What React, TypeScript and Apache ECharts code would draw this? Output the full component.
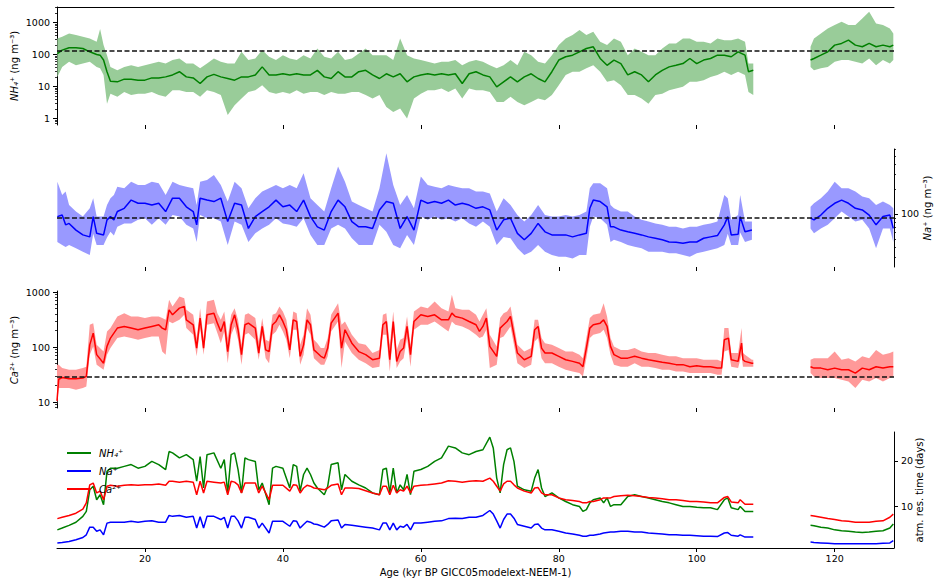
import React, { useEffect, useRef } from 'react';
import * as echarts from 'echarts';

// ---------- tick / axis values ----------
const X_TICKS = [20, 40, 60, 80, 100, 120];
const NH4_MAJOR = [1, 10, 100, 1000];
const NH4_MINOR = [0.7, 0.8, 0.9, 2, 3, 4, 5, 6, 7, 8, 9, 20, 30, 40, 50, 60, 70, 80, 90, 200, 300, 400, 500, 600, 700, 800, 900, 2000, 3000];
const NA_MAJOR = [100];
const NA_MINOR = [30, 40, 50, 60, 70, 80, 90, 200, 300, 400, 500, 600];
const CA_MAJOR = [10, 100, 1000];
const CA_MINOR = [8, 9, 20, 30, 40, 50, 60, 70, 80, 90, 200, 300, 400, 500, 600, 700, 800, 900];
const RES_TICKS = [10, 20];
const NH4_REF = 130;
const NA_REF = 90;
const CA_REF = 28.5;

// ---------- panel 1: NH4+ (ng m-3) ----------
const nh4Age = [7.3, 8, 9, 10, 11, 12, 13, 13.5, 14, 14.5, 15,
  16, 17, 18, 19, 20, 21, 22, 23, 24, 25,
  26, 27, 28, 29, 30, 31, 32, 33, 34, 35,
  36, 37, 38, 39, 40, 41, 42, 43, 44, 45,
  46, 47, 48, 49, 50, 51, 52, 53, 54, 55,
  56, 57, 58, 59, 60, 61, 62, 63, 64, 65,
  66, 67, 68, 69, 70, 71, 72, 73, 74, 75,
  76, 77, 78, 79, 80, 81, 82, 83, 84, 85,
  86, 87, 88, 89, 90, 91, 92, 93, 94, 95,
  96, 97, 98, 99, 100, 101, 102, 103, 104, 105,
  106, 107, 107.5, 108.2, 112,
  116.5, 117, 118, 119, 120, 121, 122, 123, 124, 125, 126, 127, 128, 128.5];
const nh4Mean = [107, 137, 162, 162, 154, 121, 100, 95, 67, 29, 14.7,
  14, 17, 17, 15.8, 15.8, 18.6, 18.6, 20, 23, 29,
  20, 18.6, 12.4, 20, 24, 20, 17.8, 15.8, 20, 20,
  23, 41, 23, 23, 25, 23, 25, 23, 23, 32,
  20, 17.8, 29, 20, 20, 29, 32, 23, 17.8, 25,
  20, 25, 14, 20, 23, 25, 23, 25, 23, 25,
  12.4, 25, 29, 23, 20, 9.8, 14, 20, 14, 20,
  25, 17.8, 14, 29, 67, 85, 95, 121, 154, 174,
  75, 46, 67, 52, 23, 29, 23, 14, 23, 32,
  41, 46, 52, 75, 52, 67, 75, 95, 95, 85,
  121, 95, 29, 32, null,
  67, 75, 95, 121, 196, 221, 280, 196, 174, 221, 174, 196, 174, 196];
const nh4Hi = [316, 356, 453, 402, 356, 316, 249, 620, 196, 95, 41,
  32, 41, 46, 41, 46, 52, 59, 52, 67, 75,
  52, 52, 37, 52, 75, 59, 52, 52, 121, 67,
  75, 137, 85, 67, 95, 75, 67, 95, 75, 154,
  85, 75, 121, 67, 75, 107, 154, 95, 95, 95,
  67, 316, 95, 75, 67, 59, 52, 59, 59, 67,
  46, 59, 67, 59, 46, 37, 46, 67, 46, 121,
  95, 59, 52, 95, 196, 316, 402, 576, 402, 511,
  249, 196, 316, 249, 95, 154, 121, 95, 95, 154,
  221, 221, 316, 316, 249, 249, 221, 316, 280, 280,
  316, 249, 52, 52, null,
  174, 316, 453, 649, 826, 1050, 826, 826, 1334, 2154, 931, 826, 649, 453];
const nh4Lo = [20, 41, 59, 46, 52, 59, 41, 37, 23, 2.9, 6.0,
  4.8, 6.8, 5.4, 6.0, 6.0, 6.8, 5.4, 4.8, 7.7, 7.7,
  6.8, 6.8, 4.8, 7.7, 6.8, 5.4, 1.3, 2.6, 4.2, 6.8,
  7.7, 11, 6.8, 6.0, 6.8, 6.0, 7.7, 6.0, 6.8, 6.8,
  5.4, 6.8, 6.0, 6.0, 6.8, 6.8, 5.4, 4.2, 5.4, 2.3,
  1.6, 2.05, 1.0, 4.2, 6.0, 7.7, 7.7, 8.7, 6.8, 8.7,
  4.2, 8.7, 7.7, 7.7, 6.8, 3.3, 3.3, 4.8, 3.3, 2.6,
  3.3, 4.2, 3.7, 5.4, 11, 23, 29, 29, 37, 46,
  29, 14, 15.8, 11, 5.4, 5.4, 4.2, 2.9, 5.4, 6.0,
  7.7, 8.7, 9.8, 14, 14, 15.8, 20, 23, 29, 23,
  29, 23, 6.8, 5.4, null,
  41, 32, 37, 41, 59, 67, 67, 59, 52, 75, 46, 67, 52, 67];

// ---------- panel 2: Na+ (ng m-3) ----------
const naAge = [7.3, 8, 8.5, 9, 10, 11, 12, 12.5, 13, 14,
  14.5, 15, 15.5, 16, 17, 18, 19, 20, 21, 22,
  23, 24, 25, 26, 27, 27.5, 28, 29, 30, 31,
  32, 33, 34, 35, 36, 37, 38, 39, 40, 41,
  42, 43, 44, 45, 46, 47, 48, 49, 50, 51,
  52, 53, 54, 55, 56, 57, 58, 59, 60, 61,
  62, 63, 64, 65, 66, 67, 68, 69, 70, 71,
  72, 73, 74, 75, 76, 77, 78, 79, 80, 81,
  82, 83, 84, 84.5, 85, 86, 87, 87.5, 88, 89,
  90, 91, 92, 93, 94, 95, 96, 97, 98, 99,
  100, 101, 102, 103, 104, 104.5, 105, 106, 106.3, 107,
  108, 112, 116.5, 117, 118, 119, 120, 121, 122, 123, 124, 125, 126, 127, 128, 128.5];
const naMean = [93, 97, 74, 77, 64, 56, 53, 93, 58.5, 56,
  85, 93, 85, 107, 117, 147, 134.5, 134.5, 128, 134.5,
  107, 155, 155, 122, 107, 74, 155, 147, 141, 155,
  81, 134.5, 128, 67, 93, 107, 122, 147, 122, 128,
  107, 147, 93, 70, 64, 107, 147, 122, 81, 70,
  70, 67, 112, 141, 134.5, 67, 93, 64, 147, 134.5,
  141, 134.5, 147, 128, 134.5, 128, 117, 122, 112, 64,
  85, 89, 58.5, 49, 58.5, 77, 61, 56, 56, 56,
  53, 56, 58.5, 117, 147, 141, 122, 70, 70, 64,
  61, 58.5, 56, 53, 51, 49, 46, 45.6, 44.4, 46,
  46, 51, 53, 55, 74, 93, 56, 57, 93, 61,
  64, null, 89, 85, 97, 117, 134.5, 147, 134.5, 117, 112, 97, 74, 93, 97, 67];
const naHi = [245, 169, 186, 128, 107, 93, 117, 155, 93, 93,
  128, 155, 169, 213, 204, 245, 223, 223, 245, 234,
  169, 245, 223, 213, 204, 128, 245, 257, 295, 223,
  141, 245, 204, 117, 155, 186, 204, 223, 204, 223,
  204, 309, 155, 128, 107, 204, 372, 245, 141, 128,
  117, 107, 204, 538, 223, 128, 169, 117, 282, 223,
  213, 204, 223, 213, 204, 204, 186, 186, 177, 107,
  155, 128, 97, 81, 97, 128, 97, 93, 93, 97,
  93, 97, 107, 204, 234, 234, 204, 128, 117, 107,
  107, 93, 85, 81, 77, 74, 70, 70, 67, 70,
  70, 74, 77, 81, 169, 155, 85, 97, 169, 81,
  81, null, 122, 134.5, 155, 186, 245, 204, 204, 186, 162, 155, 128, 141, 128, 117];
const naLo = [46, 42.4, 40, 42.4, 38.6, 35.2, 32, 58, 42.4, 42.4,
  52, 61, 55, 70, 77, 77, 85, 89, 74, 89,
  74, 97, 93, 74, 67, 46, 97, 89, 89, 81,
  42.4, 81, 74, 46, 58.5, 67, 74, 89, 77, 74,
  70, 89, 56, 42.4, 42.4, 67, 74, 67, 51, 42.4,
  42.4, 42.4, 74, 61, 42.4, 38.6, 56, 42.4, 93, 85,
  93, 85, 89, 81, 89, 77, 70, 81, 70, 42.4,
  53, 51, 38.6, 32, 35.2, 42.4, 35.2, 32, 30.6, 30.6,
  29.2, 32, 32, 70, 93, 89, 74, 46, 49, 46,
  42.4, 40.4, 38.6, 35.2, 35.2, 35.2, 33.6, 33.6, 32, 30.6,
  33.6, 35.2, 36.8, 38.6, 42.4, 58, 42.4, 42.4, 60, 46,
  49, null, 67, 58.5, 67, 74, 89, 107, 93, 81, 85, 67, 38.6, 67, 67, 46];

// ---------- panel 3: Ca2+ (ng m-3) ----------
const caAge = [7.25, 7.5, 8, 9, 10, 11, 11.5, 12, 12.5, 13,
  14, 14.5, 15, 16, 17, 18, 19, 20, 21, 22,
  22.5, 23, 23.5, 24, 25, 25.7, 26, 27, 27.5, 28,
  28.5, 29, 30, 30.5, 31, 31.5, 32, 32.5, 33, 33.5,
  34, 34.5, 35, 36, 36.5, 37, 37.5, 38, 38.5, 39,
  39.5, 40, 40.5, 41, 41.5, 42, 42.5, 43, 43.5, 44,
  44.5, 45, 45.5, 46, 46.5, 47, 48, 48.5, 49, 50,
  51, 52, 53, 54, 54.5, 55, 55.5, 56, 56.5, 57,
  57.5, 58, 58.5, 59, 60, 61, 62, 63, 64, 64.5,
  65, 66, 67, 68, 68.5, 69, 69.5, 70, 71, 71.5,
  72, 72.5, 73, 73.5, 74, 75, 76, 76.5, 77, 77.5,
  78, 79, 80, 81, 82, 83, 83.5, 84, 84.5, 85,
  86, 86.5, 87, 87.5, 88, 89, 90, 91, 92, 93,
  94, 95, 96, 97, 98, 99, 100, 101, 102, 103,
  103.6, 104, 104.6, 105, 106, 106.5, 106.7, 107, 108, 108.2,
  112, 116.5, 117, 118, 119, 120, 121, 122, 123, 124, 125, 126, 127, 128, 128.5];
const caMean = [10.5, 26, 28, 26.6, 26.6, 27.3, 29.3, 110, 180, 73,
  51, 103, 146, 222, 238, 222, 207, 222, 238, 255,
  222, 207, 477, 387, 512, 549, 314, 255, 96, 337,
  96, 387, 415, 273, 193, 293, 83, 255, 387, 207,
  73, 255, 273, 222, 78, 238, 89, 83, 255, 293,
  387, 293, 207, 89, 314, 293, 68, 110, 314, 255,
  89, 78, 68, 63, 96, 273, 415, 96, 207, 118,
  83, 73, 59, 63, 255, 293, 59, 293, 55, 83,
  96, 238, 73, 293, 387, 361, 387, 314, 314, 415,
  361, 337, 293, 255, 193, 238, 337, 103, 68, 222,
  255, 293, 361, 168, 78, 59, 68, 207, 238, 96,
  78, 78, 68, 59, 55, 51, 44, 96, 222, 255,
  273, 314, 238, 103, 73, 63, 63, 68, 63, 59,
  56, 53, 51, 48, 48, 44, 46, 44, 44, 41.5,
  41.5, 136, 146, 59, 55, 118, 59, 55, 51, 51,
  null, 44, 41.5, 41.5, 38.7, 41.5, 38.7, 38.7, 33.7, 41.5, 38.7, 44, 41.5, 44, 44];
const caHi = [48, 48, 41.5, 38.7, 38.7, 41.5, 44, 255, 273, 110,
  83, 193, 222, 361, 415, 361, 361, 337, 361, 361,
  337, 314, 727, 549, 834, 778, 477, 387, 146, 512,
  146, 676, 727, 415, 314, 445, 146, 387, 512, 314,
  110, 387, 415, 337, 127, 337, 136, 127, 387, 415,
  549, 445, 314, 127, 445, 415, 110, 168, 512, 387,
  136, 118, 96, 96, 146, 387, 631, 255, 293, 168,
  118, 110, 78, 89, 387, 415, 110, 445, 89, 136,
  146, 361, 110, 445, 549, 512, 676, 512, 445, 895,
  512, 477, 477, 387, 293, 387, 512, 168, 103, 337,
  415, 445, 549, 255, 110, 83, 96, 314, 314, 146,
  118, 110, 96, 83, 83, 73, 63, 146, 337, 387,
  415, 631, 361, 146, 103, 89, 89, 96, 83, 78,
  78, 73, 68, 68, 63, 63, 63, 59, 59, 59,
  55, 222, 222, 78, 78, 222, 78, 73, 59, 59,
  null, 59, 63, 63, 63, 83, 59, 63, 55, 68, 63, 89, 73, 78, 83];
const caLo = [9, 18, 18, 18, 16.8, 18, 19.3, 73, 103, 48,
  38.7, 73, 96, 146, 156, 146, 136, 146, 156, 156,
  83, 73, 293, 273, 314, 387, 222, 168, 68, 222,
  73, 255, 273, 180, 118, 193, 51, 168, 238, 136,
  48, 168, 180, 136, 59, 168, 63, 51, 168, 193,
  255, 193, 136, 63, 207, 207, 48, 73, 222, 168,
  63, 55, 48, 48, 68, 193, 293, 41.5, 127, 78,
  59, 51, 41.5, 44, 168, 168, 36, 193, 41.5, 55,
  63, 146, 44, 207, 255, 255, 293, 238, 193, 293,
  255, 238, 207, 168, 146, 156, 207, 41.5, 48, 146,
  156, 193, 238, 110, 51, 41.5, 48, 127, 146, 63,
  51, 51, 44, 38.7, 36, 33.7, 29.3, 63, 146, 168,
  180, 207, 146, 73, 48, 44, 44, 51, 44, 44,
  41.5, 38.7, 38.7, 36, 36, 33.7, 33.7, 33.7, 33.7, 31.4,
  31.4, 83, 89, 44, 41.5, 73, 44, 44, 44, 44,
  null, 33.7, 29.3, 27.3, 27.3, 27.3, 25.5, 23.8, 18, 25.5, 23.8, 27.3, 23.8, 27.3, 29.3];

// ---------- panel 4: atm. residence time (days) ----------
const resAge = [7.3, 8, 9, 10, 11, 11.5, 12, 12.5, 13, 13.5,
  14, 14.5, 15, 16, 17, 18, 19, 20, 21, 22,
  23, 23.5, 24, 25, 26, 27, 27.5, 28, 28.5, 29,
  30, 31, 31.5, 32, 32.5, 33, 33.5, 34, 34.5, 35,
  36, 36.5, 37, 38, 38.5, 39, 40, 41, 41.5, 42,
  42.5, 43, 43.5, 44, 44.5, 45, 46, 46.5, 47, 48,
  48.5, 49, 50, 51, 52, 53, 54, 54.5, 55, 55.5,
  56, 56.5, 57, 57.5, 58, 58.5, 59, 60, 61, 62,
  63, 64, 65, 66, 67, 68, 69, 70, 70.5, 71,
  71.5, 72, 72.5, 73, 73.5, 74, 75, 76, 76.5, 77,
  77.5, 78, 79, 80, 81, 82, 83, 83.5, 84, 84.5,
  85, 86, 86.5, 87, 87.5, 88, 89, 90, 91, 92,
  93, 94, 95, 96, 97, 98, 99, 100, 101, 102,
  103, 104, 104.5, 105, 106, 106.3, 107, 108, 108.2, 112,
  116.5, 117, 118, 119, 120, 121, 122, 123, 124, 125, 126, 127, 128, 128.5];
const resNH4 = [4.7, 5.1, 5.7, 6.4, 7.7, 8.8, 13.6, 14.4, 11.4, 12.5,
  10.3, 17.7, 18.4, 18.4, 18.8, 19.2, 18.4, 18.8, 19.9, 19.2,
  18.1, 22.1, 21.8, 20.7, 21.4, 20.3, 15.5, 21.0, 14.0, 21.4,
  21.8, 18.4, 20.3, 12.9, 21.4, 21.8, 18.1, 12.9, 20.7, 20.3,
  19.9, 13.6, 15.1, 10.3, 18.4, 18.8, 18.4, 14.0, 19.2, 18.8,
  13.3, 17.0, 18.4, 17.0, 15.1, 14.0, 12.5, 14.4, 19.2, 19.6,
  13.6, 17.0, 15.5, 14.7, 14.0, 12.9, 12.5, 18.1, 18.4, 12.9,
  18.4, 12.9, 14.7, 13.6, 17.0, 12.5, 17.7, 18.1, 18.8, 19.9,
  20.7, 23.3, 22.9, 21.8, 21.4, 22.1, 22.5, 25.3, 22.9, 16.2,
  12.9, 19.2, 22.5, 22.9, 19.9, 14.4, 13.6, 13.3, 16.2, 18.1,
  14.0, 12.1, 12.9, 11.8, 11.0, 10.3, 9.9, 8.8, 9.2, 10.7,
  11.4, 11.8, 10.7, 11.8, 9.9, 10.3, 10.3, 12.1, 12.5, 12.1,
  11.8, 11.4, 11.0, 10.7, 10.3, 9.9, 9.9, 9.7, 9.6, 9.6,
  9.2, 11.4, 11.8, 9.6, 9.2, 9.9, 8.8, 8.8, 8.8, null,
  5.7, 5.6, 5.3, 5.1, 4.7, 4.5, 4.4, 4.2, 4.1, 4.2, 4.4, 4.5, 5.1, 6.0];
const resNa = [1.8, 1.9, 2.1, 2.5, 3.0, 3.6, 5.3, 5.3, 4.4, 4.7,
  3.6, 6.2, 6.4, 6.4, 6.4, 6.6, 6.4, 6.6, 6.7, 6.4,
  6.4, 7.9, 7.7, 7.9, 7.5, 7.7, 5.1, 7.6, 5.1, 7.7,
  7.7, 7.0, 7.5, 5.1, 7.7, 7.7, 6.7, 5.1, 7.5, 7.5,
  7.0, 5.1, 6.2, 4.0, 6.6, 6.6, 6.6, 5.5, 6.7, 6.6,
  5.1, 5.9, 6.6, 6.4, 6.0, 5.9, 5.3, 5.9, 6.7, 6.9,
  5.1, 5.9, 5.7, 5.5, 5.3, 5.1, 4.7, 6.2, 6.2, 4.7,
  6.2, 4.7, 5.5, 5.3, 5.9, 4.7, 6.2, 6.2, 6.4, 6.6,
  6.7, 7.2, 7.3, 7.2, 7.5, 7.5, 7.9, 9.0, 8.2, 6.7,
  5.1, 7.0, 8.2, 8.2, 7.3, 5.9, 5.5, 5.1, 5.9, 6.0,
  5.1, 4.7, 4.7, 4.4, 4.0, 3.8, 3.5, 3.3, 3.3, 3.5,
  3.5, 3.8, 4.0, 4.1, 4.2, 4.2, 4.4, 4.4, 4.2, 4.2,
  4.0, 3.9, 3.8, 3.6, 3.6, 3.5, 3.5, 3.4, 3.3, 3.3,
  3.2, 4.0, 4.1, 3.5, 3.3, 3.6, 3.1, 3.1, 3.1, null,
  2.0, 1.9, 1.8, 1.7, 1.6, 1.6, 1.6, 1.6, 1.6, 1.6, 1.6, 1.7, 1.8, 2.3];
const resCa = [7.2, 7.5, 7.9, 8.4, 9.3, 10.7, 14.7, 15.1, 12.9, 13.3,
  11.4, 14.4, 14.6, 14.4, 14.6, 14.7, 14.6, 14.7, 14.7, 14.9,
  14.6, 15.5, 15.5, 15.3, 15.5, 15.3, 12.5, 15.5, 12.9, 15.5,
  15.3, 15.1, 15.3, 12.5, 15.5, 15.3, 14.7, 12.9, 15.1, 15.1,
  15.1, 12.9, 14.4, 11.4, 14.6, 14.6, 14.6, 13.3, 14.7, 14.6,
  12.9, 14.0, 14.6, 14.4, 14.0, 13.9, 13.6, 14.0, 14.6, 14.9,
  12.5, 14.0, 14.0, 13.9, 13.4, 12.9, 12.5, 14.4, 14.4, 12.5,
  14.6, 12.9, 13.6, 13.3, 14.4, 12.9, 14.4, 14.6, 14.7, 14.9,
  15.1, 15.6, 15.5, 15.3, 15.5, 15.6, 15.5, 16.2, 15.5, 14.4,
  13.3, 14.9, 15.5, 15.5, 14.7, 14.0, 13.3, 12.9, 14.0, 14.1,
  12.9, 12.5, 12.5, 11.8, 11.4, 11.2, 11.0, 10.7, 10.7, 11.0,
  11.0, 11.4, 11.8, 11.8, 11.8, 12.1, 12.3, 12.4, 12.3, 12.1,
  11.9, 11.8, 11.6, 11.4, 11.4, 11.2, 11.0, 11.0, 10.9, 10.7,
  10.7, 11.9, 12.1, 10.9, 10.7, 11.4, 10.4, 10.4, 10.4, null,
  7.9, 7.8, 7.5, 7.2, 7.0, 6.7, 6.6, 6.4, 6.4, 6.4, 6.6, 6.7, 7.5, 8.2];

// ---------- helpers ----------
const FONT = 'DejaVu Sans';
const FS = 9.5;
const NFS = 10;
const X_MIN = 7.25;
const X_MAX = 128.6;
const GREEN = '#008000';
const BLUE = '#0000ff';
const RED = '#ff0000';

const pairs = (ages: number[], vals: (number | null)[]) =>
  ages.map((a, i) => [a, vals[i] == null ? '-' : vals[i]]);

function bandSeries(ages: number[], lo: (number | null)[], hi: (number | null)[], color: string, xi: number, yi: number) {
  const segs: number[][] = [];
  let cur: number[] = [];
  ages.forEach((_a, i) => {
    if (lo[i] == null || hi[i] == null) {
      if (cur.length) segs.push(cur);
      cur = [];
    } else cur.push(i);
  });
  if (cur.length) segs.push(cur);
  return {
    type: 'custom',
    xAxisIndex: xi,
    yAxisIndex: yi,
    silent: true,
    clip: true,
    z: 1,
    data: segs.map((s, k) => [ages[s[0]], lo[s[0]], k]),
    renderItem: (params: any, api: any) => {
      const s = segs[params.dataIndex];
      const pts: number[][] = [];
      s.forEach((i) => pts.push(api.coord([ages[i], hi[i]])));
      for (let j = s.length - 1; j >= 0; j--) pts.push(api.coord([ages[s[j]], lo[s[j]]]));
      return { type: 'polygon', shape: { points: pts }, style: { fill: color } };
    },
  };
}

function lineSeries(name: string | undefined, ages: number[], vals: (number | null)[], color: string, xi: number, yi: number, ref?: number) {
  const s: any = {
    type: 'line',
    name,
    xAxisIndex: xi,
    yAxisIndex: yi,
    data: pairs(ages, vals),
    symbol: 'none',
    showSymbol: false,
    connectNulls: false,
    z: 2,
    lineStyle: { color, width: 1.5 },
    itemStyle: { color },
  };
  if (ref != null) {
    s.markLine = {
      silent: true,
      symbol: 'none',
      label: { show: false },
      lineStyle: { color: '#111', width: 1.6, type: [5, 2.5] },
      data: [{ yAxis: ref }],
      z: 5,
    };
  }
  return s;
}

const GRIDS = [
  { left: 57, top: 7, width: 837, height: 118 },
  { left: 57, top: 149, width: 837, height: 118 },
  { left: 57, top: 291, width: 837, height: 117 },
  { left: 57, top: 432, width: 837, height: 116 },
];

function xAxisFor(g: number): any {
  const last = g === 3;
  return {
    type: 'value',
    gridIndex: g,
    min: X_MIN,
    max: X_MAX,
    axisLine: { show: last, lineStyle: { color: '#000', width: 1 } },
    axisTick: { show: true, customValues: X_TICKS, length: 4, lineStyle: { color: '#000', width: 1 } },
    axisLabel: { show: last, customValues: X_TICKS, color: '#000', fontFamily: FONT, fontSize: FS, margin: 5 },
    splitLine: { show: false },
    name: last ? 'Age (kyr BP GICC05modelext-NEEM-1)' : '',
    nameLocation: 'middle',
    nameGap: 19,
    nameTextStyle: { color: '#000', fontFamily: FONT, fontSize: NFS },
  };
}

const fmt = (v: number) => String(Math.round(v));

function logAxes(g: number, pos: 'left' | 'right', min: number, max: number, major: number[], minor: number[]): any[] {
  return [
    {
      type: 'log', logBase: 10, gridIndex: g, position: pos, min, max,
      axisLine: { show: true, lineStyle: { color: '#000', width: 1 } },
      axisTick: { show: true, customValues: major, length: 4, lineStyle: { color: '#000', width: 1 } },
      axisLabel: { show: true, customValues: major, formatter: fmt, color: '#000', fontFamily: FONT, fontSize: FS, margin: 7 },
      splitLine: { show: false },
      minorTick: { show: false },
    },
    {
      type: 'log', logBase: 10, gridIndex: g, position: pos, min, max,
      axisLine: { show: false },
      axisTick: { show: true, customValues: minor, length: 2, lineStyle: { color: '#000', width: 0.8 } },
      axisLabel: { show: false },
      splitLine: { show: false },
    },
  ];
}

const italic = { i: { fontStyle: 'italic', fontFamily: FONT, fontSize: NFS, fill: '#000' } };

function vLabel(x: number, y: number, text: string) {
  return {
    type: 'text',
    x,
    y,
    rotation: Math.PI / 2,
    silent: true,
    style: {
      text,
      fill: '#000',
      fontFamily: FONT,
      fontSize: NFS,
      align: 'center',
      verticalAlign: 'middle',
      rich: italic,
    },
  };
}

const option: any = {
  animation: false,
  backgroundColor: '#ffffff',
  textStyle: { fontFamily: FONT, fontSize: FS, color: '#000' },
  grid: GRIDS,
  legend: {
    show: true,
    orient: 'vertical',
    left: 62,
    top: 443,
    icon: 'rect',
    itemWidth: 24,
    itemHeight: 2,
    itemGap: 8,
    data: ['NH₄⁺', 'Na⁺', 'Ca²⁺'],
    textStyle: { fontFamily: FONT, fontSize: NFS, fontStyle: 'italic', color: '#000', padding: [0, 0, 0, 3] },
  },
  graphic: [
    vLabel(14, 66, '{i|NH₄⁺} (ng m⁻³)'),
    vLabel(927, 208, '{i|Na⁺} (ng m⁻³)'),
    vLabel(14, 350, '{i|Ca²⁺} (ng m⁻³)'),
    vLabel(919, 490, 'atm. res. time (days)'),
  ],
  xAxis: [
    xAxisFor(0), xAxisFor(1), xAxisFor(2), xAxisFor(3),
    {
      type: 'value', gridIndex: 0, position: 'top', min: X_MIN, max: X_MAX,
      axisLine: { show: true, lineStyle: { color: '#000', width: 1 } },
      axisTick: { show: false }, axisLabel: { show: false }, splitLine: { show: false },
    },
  ],
  yAxis: [
    ...logAxes(0, 'left', 0.63, 3030, NH4_MAJOR, NH4_MINOR),
    ...logAxes(1, 'right', 23, 606, NA_MAJOR, NA_MINOR),
    ...logAxes(2, 'left', 7.8, 1050, CA_MAJOR, CA_MINOR),
    {
      type: 'value', gridIndex: 3, position: 'right', min: 0.67, max: 26.44,
      axisLine: { show: true, lineStyle: { color: '#000', width: 1 } },
      axisTick: { show: true, customValues: RES_TICKS, length: 4, lineStyle: { color: '#000', width: 1 } },
      axisLabel: { show: true, customValues: RES_TICKS, color: '#000', fontFamily: FONT, fontSize: FS, margin: 7 },
      splitLine: { show: false },
    },
  ],
  series: [
    bandSeries(nh4Age, nh4Lo, nh4Hi, '#99cc99', 0, 0),
    lineSeries(undefined, nh4Age, nh4Mean, GREEN, 0, 0, NH4_REF),
    bandSeries(naAge, naLo, naHi, '#9999ff', 1, 2),
    lineSeries(undefined, naAge, naMean, BLUE, 1, 2, NA_REF),
    bandSeries(caAge, caLo, caHi, '#ff9999', 2, 4),
    lineSeries(undefined, caAge, caMean, RED, 2, 4, CA_REF),
    lineSeries('NH₄⁺', resAge, resNH4, GREEN, 3, 6),
    lineSeries('Na⁺', resAge, resNa, BLUE, 3, 6),
    lineSeries('Ca²⁺', resAge, resCa, RED, 3, 6),
  ],
};

export default function App() {
  const ref = useRef<HTMLDivElement>(null);
  useEffect(() => {
    if (!ref.current) return;
    const chart = echarts.init(ref.current, undefined, { renderer: 'svg' });
    chart.setOption(option);
    return () => chart.dispose();
  }, []);
  return (
    <div
      ref={ref}
      style={{ position: 'fixed', left: 0, top: 0, width: 943, height: 585, background: '#fff' }}
    />
  );
}
